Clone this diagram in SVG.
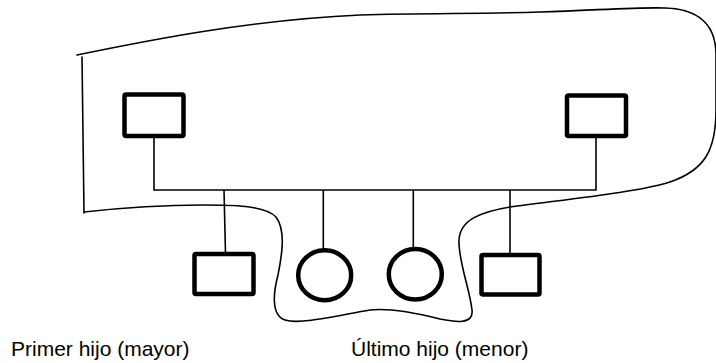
<svg xmlns="http://www.w3.org/2000/svg" width="716" height="363" viewBox="0 0 716 363">
<style>
.outline{fill:none;stroke:#000;stroke-width:1.6;stroke-linecap:round;stroke-linejoin:round}
.line{fill:none;stroke:#000;stroke-width:1.6}
.box{fill:#fff;stroke:#000;stroke-width:4.5;stroke-linejoin:round}
.label{font-family:"Liberation Sans",Arial,sans-serif;font-size:21px;fill:#000}
</style>
<rect width="716" height="363" fill="#fff"/>
<g id="household">
<path class="outline" d="M 77,55 C 150,40 250,20 360,15 C 430,13 480,14 540,12 C 600,10 640,7 665,8 C 700,9 716,25 716,55 L 716,110 C 716,150 705,170 670,182 C 640,192 560,200 510,207 C 480,212 460,220 459,240 C 458,260 470,290 472,310 C 474,325 455,322 440,319 C 420,314 390,308 370,310 C 340,315 300,325 285,320 C 270,315 274,290 278,275 C 282,255 286,230 276,217 C 265,205 230,205 203,205 C 160,205 120,208 84,212"/>
<path class="outline" d="M 82,57 L 84,213"/>
</g>
<g id="connectors">
<path class="line" d="M 154,136 V 190 H 596 V 136"/>
<path class="line" d="M 224,190 L 225.5,254"/>
<path class="line" d="M 323.3,190 V 250"/>
<path class="line" d="M 413.3,190 V 249"/>
<path class="line" d="M 510,190 V 255"/>
</g>
<g id="father"><rect class="box" x="124.5" y="94.5" width="59" height="41.5" rx="1.5"/></g>
<g id="mother"><rect class="box" x="567" y="95.5" width="59" height="40.5" rx="1.5"/></g>
<g id="child1"><rect class="box" x="194.5" y="254" width="59" height="40" rx="1.5"/></g>
<g id="child2"><ellipse class="box" cx="324.7" cy="275.3" rx="26.5" ry="25"/></g>
<g id="child3"><ellipse class="box" cx="415.3" cy="274.2" rx="26.5" ry="25.2"/></g>
<g id="child4"><rect class="box" x="481.5" y="255" width="58" height="39.5" rx="1.5"/></g>
<g id="labels">
<text class="label" x="11" y="356">Primer hijo (mayor)</text>
<text class="label" x="351" y="356">Último hijo (menor)</text>
</g>
</svg>
